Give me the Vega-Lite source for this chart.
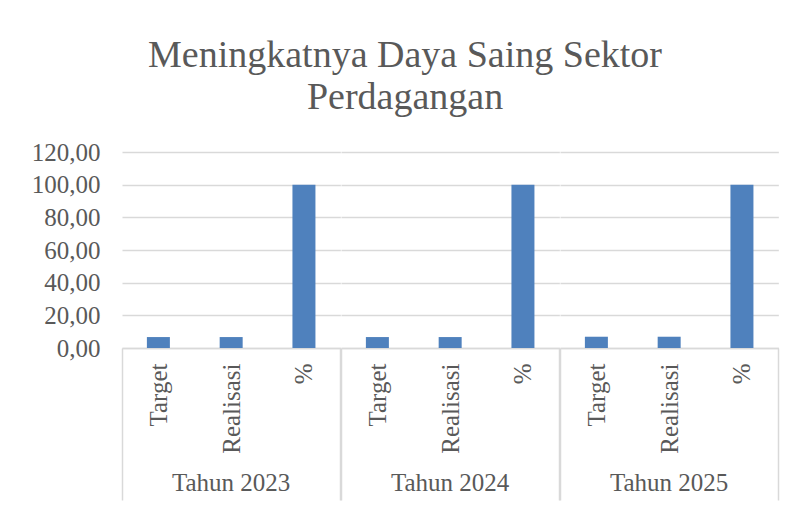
{
  "$schema": "https://vega.github.io/schema/vega-lite/v6.json",
  "padding": {"left": 31, "top": 37, "right": 5, "bottom": 0},
  "background": "white",
  "title": {
    "text": ["Meningkatnya Daya Saing Sektor", "Perdagangan"],
    "font": "Liberation Serif",
    "fontSize": 38,
    "fontWeight": "normal",
    "color": "#595959",
    "lineHeight": 42,
    "anchor": "middle",
    "offset": 23
  },
  "data": {
    "values": [
      {"Tahun": "Tahun 2023", "Kategori": "Target", "Nilai": 6.7},
      {"Tahun": "Tahun 2023", "Kategori": "Realisasi", "Nilai": 6.7},
      {"Tahun": "Tahun 2023", "Kategori": "%", "Nilai": 100},
      {"Tahun": "Tahun 2024", "Kategori": "Target", "Nilai": 6.7},
      {"Tahun": "Tahun 2024", "Kategori": "Realisasi", "Nilai": 6.7},
      {"Tahun": "Tahun 2024", "Kategori": "%", "Nilai": 100},
      {"Tahun": "Tahun 2025", "Kategori": "Target", "Nilai": 6.9},
      {"Tahun": "Tahun 2025", "Kategori": "Realisasi", "Nilai": 6.9},
      {"Tahun": "Tahun 2025", "Kategori": "%", "Nilai": 100}
    ]
  },
  "facet": {
    "column": {
      "field": "Tahun",
      "type": "ordinal",
      "header": {
        "title": null,
        "labelOrient": "bottom",
        "labelFont": "Liberation Serif",
        "labelFontSize": 25,
        "labelColor": "#595959",
        "labelPadding": -30
      }
    }
  },
  "spacing": 0,
  "spec": {
    "width": 218.33,
    "height": 196,
    "mark": {"type": "bar", "width": 23, "color": "#4F81BD"},
    "encoding": {
      "x": {
        "field": "Kategori",
        "type": "nominal",
        "sort": ["Target", "Realisasi", "%"],
        "title": null,
        "scale": {"paddingInner": 0, "paddingOuter": 0},
        "axis": {
          "labelAngle": -90,
          "labelFont": "Liberation Serif",
          "labelFontSize": 25,
          "labelColor": "#595959",
          "labelPadding": -137,
          "domainColor": "#d9d9d9",
          "domainWidth": 1.5,
          "tickBand": "extent",
          "tickSize": 152,
          "tickWidth": 1.5,
          "tickColor": {"condition": {"test": "datum.value === '%' || datum.extra", "value": "#d9d9d9"}, "value": "transparent"}
        }
      },
      "y": {
        "field": "Nilai",
        "type": "quantitative",
        "title": null,
        "scale": {"domain": [0, 120]},
        "axis": {
          "values": [0, 20, 40, 60, 80, 100, 120],
          "labelExpr": "replace(format(datum.value, '.2f'), '.', ',')",
          "labelFont": "Liberation Serif",
          "labelFontSize": 25,
          "labelColor": "#595959",
          "labelPadding": 22,
          "domain": false,
          "ticks": false,
          "gridColor": "#d9d9d9",
          "gridWidth": 1.5
        }
      }
    }
  },
  "config": {"view": {"stroke": null}}
}
